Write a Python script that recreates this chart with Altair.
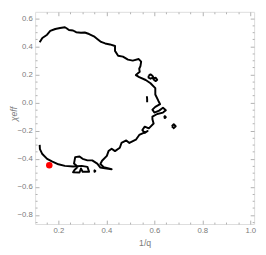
import altair as alt
import pandas as pd

# main contour path (1/q, chi_eff)
main_x = [0.122, 0.133, 0.153, 0.166, 0.187, 0.207, 0.227, 0.234, 0.244, 0.261,
          0.274, 0.294, 0.310, 0.328, 0.348, 0.362, 0.378, 0.395, 0.415, 0.436,
          0.436, 0.449, 0.469, 0.490, 0.510, 0.535, 0.545, 0.542, 0.537, 0.539,
          0.523, 0.537, 0.564, 0.584, 0.604, 0.604, 0.617, 0.624, 0.604, 0.592,
          0.600, 0.620, 0.636, 0.648, 0.636, 0.612, 0.592, 0.592, 0.597, 0.577,
          0.560, 0.550, 0.560, 0.572, 0.537, 0.523, 0.496, 0.483, 0.463, 0.456,
          0.436, 0.422, 0.409, 0.402, 0.382, 0.375, 0.389, 0.422, 0.394, 0.375,
          0.362, 0.341, 0.321, 0.301, 0.288, 0.270, 0.265, 0.281, 0.267, 0.261,
          0.288, 0.294, 0.301, 0.328, 0.321, 0.297, 0.261, 0.227, 0.200, 0.173,
          0.153, 0.133, 0.123, 0.122]
main_y = [0.430, 0.460, 0.483, 0.510, 0.524, 0.531, 0.536, 0.529, 0.517, 0.513,
          0.501, 0.497, 0.499, 0.488, 0.472, 0.453, 0.432, 0.421, 0.414, 0.403,
          0.368, 0.334, 0.327, 0.306, 0.299, 0.310, 0.292, 0.260, 0.241, 0.219,
          0.196, 0.181, 0.161, 0.138, 0.103, 0.058, 0.012, -0.011, -0.030, -0.050,
          -0.071, -0.057, -0.037, -0.054, -0.071, -0.081, -0.099, -0.119, -0.149, -0.183,
          -0.171, -0.195, -0.216, -0.202, -0.230, -0.264, -0.287, -0.269, -0.287, -0.321,
          -0.345, -0.328, -0.345, -0.379, -0.414, -0.437, -0.459, -0.474, -0.468, -0.462,
          -0.434, -0.411, -0.411, -0.400, -0.383, -0.388, -0.434, -0.457, -0.480, -0.495,
          -0.497, -0.469, -0.492, -0.492, -0.457, -0.450, -0.454, -0.450, -0.439, -0.418,
          -0.400, -0.366, -0.331, -0.301]

# small closed islands of the contour
isl_a_x = [0.576, 0.584, 0.592, 0.598, 0.606, 0.612, 0.606, 0.598, 0.592, 0.584, 0.576, 0.576]
isl_a_y = [0.191, 0.201, 0.191, 0.174, 0.177, 0.163, 0.153, 0.163, 0.177, 0.170, 0.177, 0.191]
isl_b_x = [0.569, 0.570, 0.570]
isl_b_y = [0.045, 0.024, 0.003]
isl_c_x = [0.640, 0.644, 0.648, 0.644, 0.640]
isl_c_y = [-0.103, -0.096, -0.103, -0.110, -0.103]
isl_d_x = [0.673, 0.681, 0.689, 0.681, 0.673]
isl_d_y = [-0.168, -0.154, -0.168, -0.182, -0.168]
isl_e_x = [0.348, 0.351, 0.354, 0.351, 0.348]
isl_e_y = [-0.487, -0.482, -0.487, -0.492, -0.487]

# red marker
pt_x = [0.162]
pt_y = [-0.446]

x_major = [0.2, 0.4, 0.6, 0.8, 1.0]
x_minor = [0.15, 0.25, 0.3, 0.35, 0.45, 0.5, 0.55, 0.65, 0.7, 0.75, 0.85, 0.9, 0.95]
y_major = [-0.8, -0.6, -0.4, -0.2, 0.0, 0.2, 0.4, 0.6]
y_minor = [-0.85, -0.75, -0.7, -0.65, -0.55, -0.5, -0.45, -0.35, -0.3, -0.25,
           -0.15, -0.1, -0.05, 0.05, 0.1, 0.15, 0.25, 0.3, 0.35, 0.45, 0.5, 0.55, 0.65]

rows = []
for seg, (xs_, ys_) in enumerate([(main_x, main_y), (isl_a_x, isl_a_y), (isl_b_x, isl_b_y),
                                   (isl_c_x, isl_c_y), (isl_d_x, isl_d_y), (isl_e_x, isl_e_y)]):
    for i, (a, b) in enumerate(zip(xs_, ys_)):
        rows.append({"seg": seg, "idx": i, "x": a, "y": b})
df = pd.DataFrame(rows)
pts = pd.DataFrame({"x": pt_x, "y": pt_y})

XD = [0.103, 1.016]
YD = [-0.864, 0.646]
GRAY = "#b0b0b0"
LAB = "#7a7a7a"
FONT = "Liberation Sans"

xs = alt.Scale(domain=XD, nice=False, zero=False)
ys = alt.Scale(domain=YD, nice=False, zero=False)

line = alt.Chart(df).mark_line(color="black", strokeWidth=2, strokeJoin="round").encode(
    x=alt.X("x:Q", scale=xs, axis=alt.Axis(
        values=x_major, format=".1f", ticks=False, domain=False, grid=False,
        labelPadding=3, labelFontSize=8, labelColor=LAB, labelFont=FONT,
        title="1/q", titleFont=FONT, titleFontSize=9, titleFontWeight="normal",
        titleColor=LAB, titleX=113, titleY=19, titleBaseline="middle")),
    y=alt.Y("y:Q", scale=ys, axis=alt.Axis(
        values=y_major, format=".1f", ticks=False, domain=False, grid=False,
        labelPadding=3, labelFontSize=8, labelColor=LAB, labelFont=FONT,
        title="χeff", titleFont=FONT, titleFontSize=9, titleFontWeight="normal",
        titleFontStyle="italic", titleColor=LAB, titleX=-22, titleY=105,
        titleBaseline="middle", titleAngle=270)),
    detail="seg:N",
    order="idx:Q",
)

dot = alt.Chart(pts).mark_circle(color="#ff0000", size=45, opacity=1).encode(
    x=alt.X("x:Q", scale=xs, axis=None),
    y=alt.Y("y:Q", scale=ys, axis=None),
)


def tick_layer(xorient, yorient, xv, yv, size):
    return alt.Chart(pts).mark_point(opacity=0).encode(
        x=alt.X("x:Q", scale=xs, axis=alt.Axis(
            orient=xorient, values=xv, labels=False, domain=False, grid=False,
            ticks=True, tickSize=size, offset=-size, tickColor=GRAY, title=None)),
        y=alt.Y("y:Q", scale=ys, axis=alt.Axis(
            orient=yorient, values=yv, labels=False, domain=False, grid=False,
            ticks=True, tickSize=size, offset=-size, tickColor=GRAY, title=None)),
    )


layers = [
    line,
    tick_layer("bottom", "left", x_major, y_major, 4),
    tick_layer("bottom", "left", x_minor, y_minor, 2),
    tick_layer("top", "right", x_major, y_major, 4),
    tick_layer("top", "right", x_minor, y_minor, 2),
    dot,
]

chart = alt.layer(*layers).resolve_axis(x="independent", y="independent").properties(
    width=226, height=219,
    autosize=alt.AutoSizeParams(type="none"),
    padding={"left": 28, "top": 0, "right": 4, "bottom": 28},
).configure_view(stroke=GRAY, strokeWidth=1).configure(background="white")

chart.save("out.html", embed_options={"renderer": "svg", "actions": False})
